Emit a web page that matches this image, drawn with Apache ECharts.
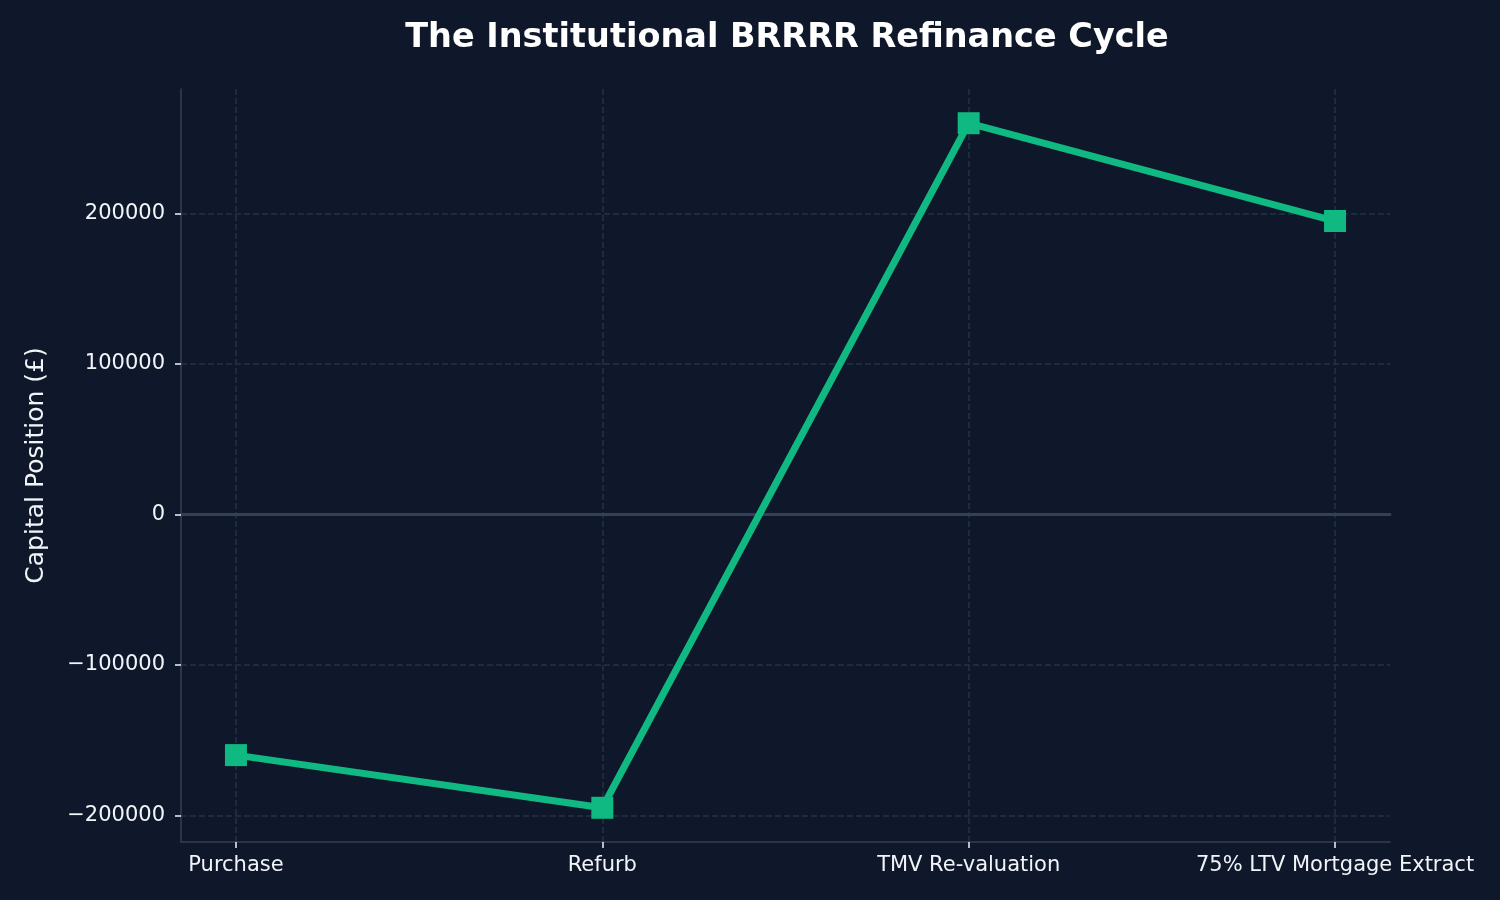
<!DOCTYPE html>
<html>
<head>
<meta charset="utf-8">
<script src="https://cdn.jsdelivr.net/npm/echarts@6/dist/echarts.min.js"></script>
<style>
  html, body { margin: 0; background: #0f172a; }
  #chart { width: 1500px; height: 900px; }
</style>
</head>
<body>
<div id="chart"></div>
<script>
// Data
const stages = ['Purchase', 'Refurb', 'TMV Re-valuation', '75% LTV Mortgage Extract'];
const capitalPosition = [-160000, -195000, 260000, 195000];
const yTickValues = [-200000, -100000, 0, 100000, 200000];
const xTickValues = [0, 1, 2, 3];

// Palette
const BG = '#0f172a';
const LINE = '#10b981';
const SPINE = '#334155';
const GRID = '#253246';
const TEXT = '#f1f5f9';
const FONT = 'DejaVu Sans';

function fmtY(v) {
  return v < 0 ? '\u2212' + Math.abs(v) : String(v);
}

const chart = echarts.init(document.getElementById('chart'));

const option = {
  backgroundColor: BG,
  animation: false,
  title: {
    text: 'The Institutional BRRRR Refinance Cycle',
    left: 782,
    textAlign: 'center',
    top: 16,
    textStyle: { color: '#ffffff', fontFamily: FONT, fontSize: 33.5, fontWeight: 'bold' },
  },
  grid: { left: 181, right: 110, top: 89, bottom: 58, containLabel: false },
  xAxis: [
    {
      type: 'value',
      min: -0.15,
      max: 3.15,
      axisLine: { show: true, onZero: false, lineStyle: { color: SPINE, width: 1.5 } },
      axisTick: { show: true, customValues: xTickValues, length: 6, lineStyle: { color: TEXT, width: 1.5 } },
      axisLabel: {
        customValues: xTickValues,
        margin: 13,
        color: TEXT,
        fontFamily: FONT,
        fontSize: 21,
        formatter: (v) => stages[Math.round(v)] || '',
      },
      splitLine: {
        show: true,
        lineStyle: { color: GRID, width: 1.5, type: [6, 3] },
      },
    },
    {
      // zero reference line
      type: 'value',
      min: -0.15,
      max: 3.15,
      axisLine: { show: true, onZero: true, lineStyle: { color: SPINE, width: 3 } },
      axisTick: { show: false },
      axisLabel: { show: false },
      splitLine: { show: false },
    },
  ],
  yAxis: {
    type: 'value',
    min: -217750,
    max: 282750,
    name: 'Capital Position (£)',
    nameLocation: 'middle',
    nameGap: 132,
    nameTextStyle: { color: TEXT, fontFamily: FONT, fontSize: 25 },
    axisLine: { show: true, onZero: false, lineStyle: { color: SPINE, width: 1.5 } },
    axisTick: { show: true, customValues: yTickValues, length: 6, lineStyle: { color: TEXT, width: 1.5 } },
    axisLabel: {
      customValues: yTickValues,
      margin: 16,
      color: TEXT,
      fontFamily: FONT,
      fontSize: 21,
      formatter: fmtY,
    },
    splitLine: {
      show: true,
      lineStyle: { color: GRID, width: 1.5, type: [6, 3] },
    },
  },
  series: [
    {
      type: 'line',
      xAxisIndex: 0,
      data: capitalPosition.map((v, i) => [i, v]),
      symbol: 'rect',
      symbolSize: 22,
      lineStyle: { color: LINE, width: 7 },
      itemStyle: { color: LINE },
      z: 3,
    },
  ],
};

chart.setOption(option);
</script>
</body>
</html>
